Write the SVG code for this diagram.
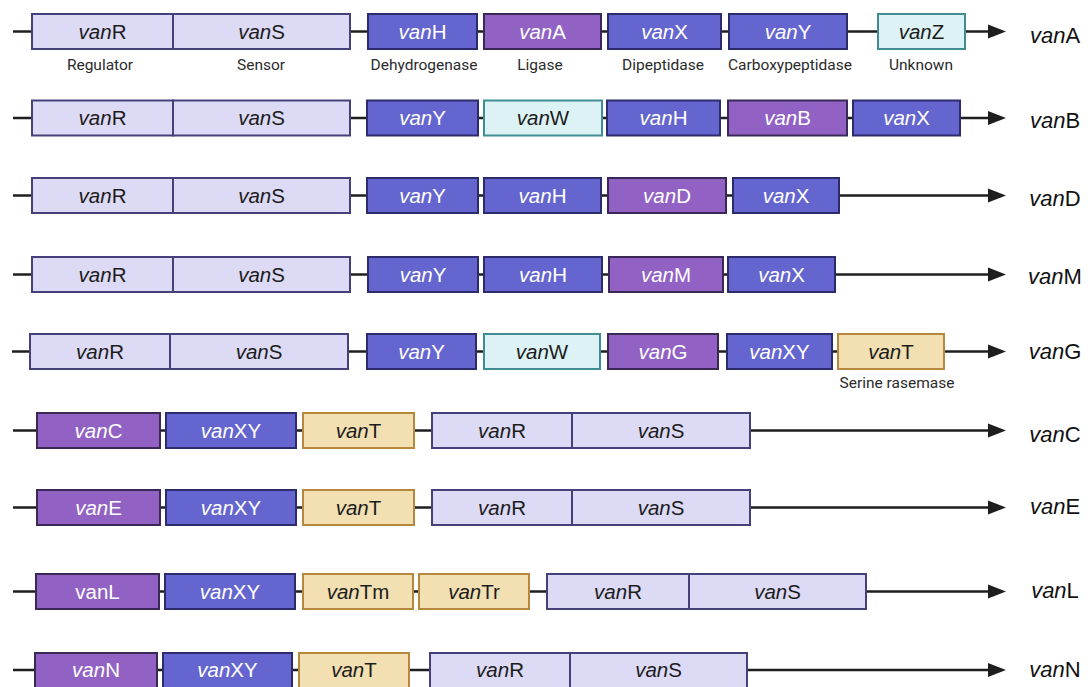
<svg xmlns="http://www.w3.org/2000/svg" width="1091" height="687" viewBox="0 0 1091 687">
  <style>
    text { font-family: "Liberation Sans", Arial, sans-serif; }
    .gene { font-size: 20.5px; text-anchor: middle; }
    .van { font-style: italic; }
    .lt { fill: #1c1c1c; }
    .dk { fill: #ffffff; }
    .reg  { fill: #dcdaf4; stroke: #45407a; stroke-width: 2; }
    .enz  { fill: #6565cf; stroke: #2c2b6c; stroke-width: 2; }
    .lig  { fill: #9162c4; stroke: #3a2857; stroke-width: 2; }
    .unk  { fill: #ddf2f4; stroke: #3f8d92; stroke-width: 2; }
    .ser  { fill: #f2dfb2; stroke: #b6883d; stroke-width: 2; }
    .backbone { stroke: #1e1e1e; stroke-width: 2.5; fill: none; }
    .head { fill: #1e1e1e; }
    .fn { font-family: Roboto, "Liberation Sans", sans-serif; font-size: 15.5px; fill: #2b2b2b; text-anchor: middle; }
    .cluster { font-size: 22px; fill: #111; text-anchor: middle; }
  </style>

  <rect width="1091" height="687" fill="#ffffff"/>

  <!-- backbones with arrowheads, one per cluster -->
  <g id="connectors">
    <line class="backbone" x1="13" y1="31.5" x2="992" y2="31.5"/><polygon class="head" points="988,24.5 1006,31.5 988,38.5"/>
    <line class="backbone" x1="13" y1="118" x2="992" y2="118"/><polygon class="head" points="988,111 1006,118 988,125"/>
    <line class="backbone" x1="13" y1="195.5" x2="992" y2="195.5"/><polygon class="head" points="988,188.5 1006,195.5 988,202.5"/>
    <line class="backbone" x1="13" y1="274.5" x2="992" y2="274.5"/><polygon class="head" points="988,267.5 1006,274.5 988,281.5"/>
    <line class="backbone" x1="12" y1="351.5" x2="992" y2="351.5"/><polygon class="head" points="988,344.5 1006,351.5 988,358.5"/>
    <line class="backbone" x1="13" y1="430.5" x2="992" y2="430.5"/><polygon class="head" points="988,423.5 1006,430.5 988,437.5"/>
    <line class="backbone" x1="13" y1="507.5" x2="992" y2="507.5"/><polygon class="head" points="988,500.5 1006,507.5 988,514.5"/>
    <line class="backbone" x1="13" y1="591.5" x2="992" y2="591.5"/><polygon class="head" points="988,584.5 1006,591.5 988,598.5"/>
    <line class="backbone" x1="13" y1="670" x2="992" y2="670"/><polygon class="head" points="988,663 1006,670 988,677"/>
  </g>

  <!-- vanA cluster -->
  <g id="vanA-vanR"><rect class="reg" x="32" y="14" width="141" height="35"/><text class="gene lt" x="102.5" y="38.5"><tspan class="van">van</tspan>R</text></g>
  <g id="vanA-vanS"><rect class="reg" x="173" y="14" width="177" height="35"/><text class="gene lt" x="261.5" y="38.5"><tspan class="van">van</tspan>S</text></g>
  <g id="vanA-vanH"><rect class="enz" x="368" y="14" width="109" height="35"/><text class="gene dk" x="422.5" y="38.5"><tspan class="van">van</tspan>H</text></g>
  <g id="vanA-vanA"><rect class="lig" x="484" y="14" width="117" height="35"/><text class="gene dk" x="542.5" y="38.5"><tspan class="van">van</tspan>A</text></g>
  <g id="vanA-vanX"><rect class="enz" x="608" y="14" width="113" height="35"/><text class="gene dk" x="664.5" y="38.5"><tspan class="van">van</tspan>X</text></g>
  <g id="vanA-vanY"><rect class="enz" x="729" y="14" width="118" height="35"/><text class="gene dk" x="788" y="38.5"><tspan class="van">van</tspan>Y</text></g>
  <g id="vanA-vanZ"><rect class="unk" x="878" y="14" width="87" height="35"/><text class="gene lt" x="921.5" y="38.5"><tspan class="van">van</tspan>Z</text></g>
  <g id="functions">
    <text class="fn" x="100" y="70">Regulator</text>
    <text class="fn" x="261" y="70">Sensor</text>
    <text class="fn" x="424" y="70">Dehydrogenase</text>
    <text class="fn" x="540" y="70">Ligase</text>
    <text class="fn" x="663" y="70">Dipeptidase</text>
    <text class="fn" x="790" y="70">Carboxypeptidase</text>
    <text class="fn" x="921" y="70">Unknown</text>
    <text class="fn" x="897" y="388">Serine rasemase</text>
  </g>

  <!-- vanB cluster -->
  <g id="vanB-vanR"><rect class="reg" x="32" y="100.5" width="141" height="35"/><text class="gene lt" x="102.5" y="125"><tspan class="van">van</tspan>R</text></g>
  <g id="vanB-vanS"><rect class="reg" x="173" y="100.5" width="177" height="35"/><text class="gene lt" x="261.5" y="125"><tspan class="van">van</tspan>S</text></g>
  <g id="vanB-vanY"><rect class="enz" x="367" y="100.5" width="111" height="35"/><text class="gene dk" x="422.5" y="125"><tspan class="van">van</tspan>Y</text></g>
  <g id="vanB-vanW"><rect class="unk" x="484" y="100.5" width="118" height="35"/><text class="gene lt" x="543" y="125"><tspan class="van">van</tspan>W</text></g>
  <g id="vanB-vanH"><rect class="enz" x="607" y="100.5" width="113" height="35"/><text class="gene dk" x="663.5" y="125"><tspan class="van">van</tspan>H</text></g>
  <g id="vanB-vanB"><rect class="lig" x="728" y="100.5" width="119" height="35"/><text class="gene dk" x="787.5" y="125"><tspan class="van">van</tspan>B</text></g>
  <g id="vanB-vanX"><rect class="enz" x="853" y="100.5" width="107" height="35"/><text class="gene dk" x="906.5" y="125"><tspan class="van">van</tspan>X</text></g>

  <!-- vanD cluster -->
  <g id="vanD-vanR"><rect class="reg" x="32" y="178" width="141" height="35"/><text class="gene lt" x="102.5" y="202.5"><tspan class="van">van</tspan>R</text></g>
  <g id="vanD-vanS"><rect class="reg" x="173" y="178" width="177" height="35"/><text class="gene lt" x="261.5" y="202.5"><tspan class="van">van</tspan>S</text></g>
  <g id="vanD-vanY"><rect class="enz" x="367" y="178" width="111" height="35"/><text class="gene dk" x="422.5" y="202.5"><tspan class="van">van</tspan>Y</text></g>
  <g id="vanD-vanH"><rect class="enz" x="484" y="178" width="117" height="35"/><text class="gene dk" x="542.5" y="202.5"><tspan class="van">van</tspan>H</text></g>
  <g id="vanD-vanD"><rect class="lig" x="608" y="178" width="118" height="35"/><text class="gene dk" x="667" y="202.5"><tspan class="van">van</tspan>D</text></g>
  <g id="vanD-vanX"><rect class="enz" x="733" y="178" width="106" height="35"/><text class="gene dk" x="786" y="202.5"><tspan class="van">van</tspan>X</text></g>

  <!-- vanM cluster -->
  <g id="vanM-vanR"><rect class="reg" x="32" y="257" width="141" height="35"/><text class="gene lt" x="102.5" y="281.5"><tspan class="van">van</tspan>R</text></g>
  <g id="vanM-vanS"><rect class="reg" x="173" y="257" width="177" height="35"/><text class="gene lt" x="261.5" y="281.5"><tspan class="van">van</tspan>S</text></g>
  <g id="vanM-vanY"><rect class="enz" x="368" y="257" width="110" height="35"/><text class="gene dk" x="423" y="281.5"><tspan class="van">van</tspan>Y</text></g>
  <g id="vanM-vanH"><rect class="enz" x="484" y="257" width="118" height="35"/><text class="gene dk" x="543" y="281.5"><tspan class="van">van</tspan>H</text></g>
  <g id="vanM-vanM"><rect class="lig" x="609" y="257" width="114" height="35"/><text class="gene dk" x="666" y="281.5"><tspan class="van">van</tspan>M</text></g>
  <g id="vanM-vanX"><rect class="enz" x="728" y="257" width="107" height="35"/><text class="gene dk" x="781.5" y="281.5"><tspan class="van">van</tspan>X</text></g>

  <!-- vanG cluster -->
  <g id="vanG-vanR"><rect class="reg" x="30" y="334" width="140" height="35"/><text class="gene lt" x="100" y="358.5"><tspan class="van">van</tspan>R</text></g>
  <g id="vanG-vanS"><rect class="reg" x="170" y="334" width="178" height="35"/><text class="gene lt" x="259" y="358.5"><tspan class="van">van</tspan>S</text></g>
  <g id="vanG-vanY"><rect class="enz" x="367" y="334" width="109" height="35"/><text class="gene dk" x="421.5" y="358.5"><tspan class="van">van</tspan>Y</text></g>
  <g id="vanG-vanW"><rect class="unk" x="484" y="334" width="116" height="35"/><text class="gene lt" x="542" y="358.5"><tspan class="van">van</tspan>W</text></g>
  <g id="vanG-vanG"><rect class="lig" x="608" y="334" width="110" height="35"/><text class="gene dk" x="663" y="358.5"><tspan class="van">van</tspan>G</text></g>
  <g id="vanG-vanXY"><rect class="enz" x="727" y="334" width="105" height="35"/><text class="gene dk" x="779.5" y="358.5"><tspan class="van">van</tspan>XY</text></g>
  <g id="vanG-vanT"><rect class="ser" x="838" y="334" width="106" height="35"/><text class="gene lt" x="891" y="358.5"><tspan class="van">van</tspan>T</text></g>

  <!-- vanC cluster -->
  <g id="vanC-vanC"><rect class="lig" x="37" y="413" width="123" height="35"/><text class="gene dk" x="98.5" y="437.5"><tspan class="van">van</tspan>C</text></g>
  <g id="vanC-vanXY"><rect class="enz" x="166" y="413" width="130" height="35"/><text class="gene dk" x="231" y="437.5"><tspan class="van">van</tspan>XY</text></g>
  <g id="vanC-vanT"><rect class="ser" x="303" y="413" width="111" height="35"/><text class="gene lt" x="358.5" y="437.5"><tspan class="van">van</tspan>T</text></g>
  <g id="vanC-vanR"><rect class="reg" x="432" y="413" width="140" height="35"/><text class="gene lt" x="502" y="437.5"><tspan class="van">van</tspan>R</text></g>
  <g id="vanC-vanS"><rect class="reg" x="572" y="413" width="178" height="35"/><text class="gene lt" x="661" y="437.5"><tspan class="van">van</tspan>S</text></g>

  <!-- vanE cluster -->
  <g id="vanE-vanE"><rect class="lig" x="37" y="490" width="123" height="35"/><text class="gene dk" x="98.5" y="514.5"><tspan class="van">van</tspan>E</text></g>
  <g id="vanE-vanXY"><rect class="enz" x="166" y="490" width="130" height="35"/><text class="gene dk" x="231" y="514.5"><tspan class="van">van</tspan>XY</text></g>
  <g id="vanE-vanT"><rect class="ser" x="303" y="490" width="111" height="35"/><text class="gene lt" x="358.5" y="514.5"><tspan class="van">van</tspan>T</text></g>
  <g id="vanE-vanR"><rect class="reg" x="432" y="490" width="140" height="35"/><text class="gene lt" x="502" y="514.5"><tspan class="van">van</tspan>R</text></g>
  <g id="vanE-vanS"><rect class="reg" x="572" y="490" width="178" height="35"/><text class="gene lt" x="661" y="514.5"><tspan class="van">van</tspan>S</text></g>

  <!-- vanL cluster -->
  <g id="vanL-vanL"><rect class="lig" x="36" y="574" width="123" height="35"/><text class="gene dk" x="97.5" y="598.5">vanL</text></g>
  <g id="vanL-vanXY"><rect class="enz" x="165" y="574" width="130" height="35"/><text class="gene dk" x="230" y="598.5"><tspan class="van">van</tspan>XY</text></g>
  <g id="vanL-vanTm"><rect class="ser" x="303" y="574" width="110" height="35"/><text class="gene lt" x="358" y="598.5"><tspan class="van">van</tspan>Tm</text></g>
  <g id="vanL-vanTr"><rect class="ser" x="419" y="574" width="110" height="35"/><text class="gene lt" x="474" y="598.5"><tspan class="van">van</tspan>Tr</text></g>
  <g id="vanL-vanR"><rect class="reg" x="547" y="574" width="142" height="35"/><text class="gene lt" x="618" y="598.5"><tspan class="van">van</tspan>R</text></g>
  <g id="vanL-vanS"><rect class="reg" x="689" y="574" width="177" height="35"/><text class="gene lt" x="777.5" y="598.5"><tspan class="van">van</tspan>S</text></g>

  <!-- vanN cluster -->
  <g id="vanN-vanN"><rect class="lig" x="35" y="653" width="122" height="35"/><text class="gene dk" x="96" y="677"><tspan class="van">van</tspan>N</text></g>
  <g id="vanN-vanXY"><rect class="enz" x="163" y="653" width="129" height="35"/><text class="gene dk" x="227.5" y="677"><tspan class="van">van</tspan>XY</text></g>
  <g id="vanN-vanT"><rect class="ser" x="299" y="653" width="110" height="35"/><text class="gene lt" x="354" y="677"><tspan class="van">van</tspan>T</text></g>
  <g id="vanN-vanR"><rect class="reg" x="430" y="653" width="140" height="35"/><text class="gene lt" x="500" y="677"><tspan class="van">van</tspan>R</text></g>
  <g id="vanN-vanS"><rect class="reg" x="570" y="653" width="177" height="35"/><text class="gene lt" x="658.5" y="677"><tspan class="van">van</tspan>S</text></g>

  <!-- cluster names -->
  <g id="cluster-labels">
    <text class="cluster" x="1055" y="43"><tspan class="van">van</tspan>A</text>
    <text class="cluster" x="1055" y="128"><tspan class="van">van</tspan>B</text>
    <text class="cluster" x="1055" y="206"><tspan class="van">van</tspan>D</text>
    <text class="cluster" x="1055" y="284"><tspan class="van">van</tspan>M</text>
    <text class="cluster" x="1055" y="359"><tspan class="van">van</tspan>G</text>
    <text class="cluster" x="1055" y="442"><tspan class="van">van</tspan>C</text>
    <text class="cluster" x="1055" y="514"><tspan class="van">van</tspan>E</text>
    <text class="cluster" x="1055" y="598"><tspan class="van">van</tspan>L</text>
    <text class="cluster" x="1055" y="677"><tspan class="van">van</tspan>N</text>
  </g>
</svg>
